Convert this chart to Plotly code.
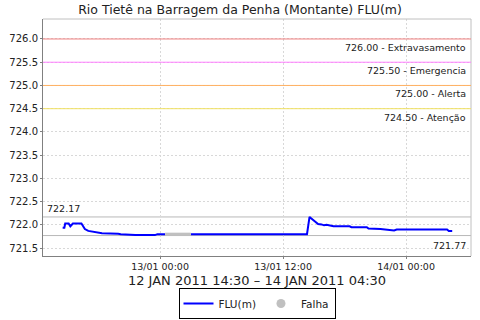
import plotly.graph_objects as go

# FLU(m) series (blue) - two segments separated by a failure gap
times_a = ["2011-01-12 14:30", "2011-01-12 14:40", "2011-01-12 14:45", "2011-01-12 15:05",
           "2011-01-12 15:15", "2011-01-12 15:30", "2011-01-12 16:20", "2011-01-12 16:40",
           "2011-01-12 17:00", "2011-01-12 17:30", "2011-01-12 18:20", "2011-01-12 19:55",
           "2011-01-12 20:10", "2011-01-12 21:35", "2011-01-12 23:30", "2011-01-12 23:45",
           "2011-01-13 00:30"]
vals_a = [721.94, 721.94, 722.03, 722.03,
          721.97, 722.03, 722.03, 721.91,
          721.87, 721.85, 721.82, 721.81,
          721.80, 721.78, 721.78, 721.80,
          721.80]

times_b = ["2011-01-13 03:00", "2011-01-13 14:20", "2011-01-13 14:35", "2011-01-13 15:05",
           "2011-01-13 15:25", "2011-01-13 15:45", "2011-01-13 16:00", "2011-01-13 16:15",
           "2011-01-13 16:35", "2011-01-13 16:55", "2011-01-13 18:30", "2011-01-13 18:40",
           "2011-01-13 20:10", "2011-01-13 20:20", "2011-01-13 21:30", "2011-01-13 22:50",
           "2011-01-13 23:05", "2011-01-14 04:00", "2011-01-14 04:10", "2011-01-14 04:30"]
vals_b = [721.80, 721.80, 722.17, 722.09,
          722.02, 722.01, 721.99, 722.00,
          721.98, 721.97, 721.97, 721.95,
          721.95, 721.92, 721.91, 721.88,
          721.90, 721.90, 721.87, 721.87]

# Failure (Falha) segment
times_gap = ["2011-01-13 00:30", "2011-01-13 03:00"]
vals_gap = [721.80, 721.80]

# Reference levels
levels = [726.00, 725.50, 725.00, 724.50]
level_names = ["Extravasamento", "Emergencia", "Alerta", "Atenção"]
level_colors = ["#f08080", "#ff80ff", "#ffb060", "#f0e060"]

max_val = 722.17
min_val = 721.77

x_range = ["2011-01-12 12:35", "2011-01-14 06:20"]
y_range = [721.33, 726.43]

fig = go.Figure()

fig.update_layout(
    width=480, height=320,
    margin=dict(l=43, r=9, t=19, b=64, autoexpand=False),
    paper_bgcolor="white", plot_bgcolor="white",
    font=dict(family="DejaVu Sans", size=10, color="#222222"),
    title=dict(text="Rio Tietê na Barragem da Penha (Montante) FLU(m)", x=0.5, xanchor="center",
               y=0.97, yanchor="middle", font=dict(size=12.5, color="#222222")),
    showlegend=True,
    legend=dict(orientation="h", x=0.5, xanchor="center", yref="container", y=0.003, yanchor="bottom",
                bordercolor="#000000", borderwidth=1, font=dict(size=10.5),
                itemwidth=30, tracegroupgap=0),
    xaxis=dict(range=x_range, type="date", dtick=12 * 3600 * 1000, tick0="2011-01-13 00:00",
               tickformat="%d/%m %H:%M", showgrid=True, gridcolor="#d8d8d8", griddash="2px,2px",
               gridwidth=1, showline=True, linecolor="#808080", linewidth=1, mirror=False,
               ticks="outside", ticklen=2, tickcolor="#808080", tickfont=dict(size=9.5),
               title=dict(text="12 JAN 2011 14:30 – 14 JAN 2011 04:30", font=dict(size=13), standoff=5),
               zeroline=False),
    yaxis=dict(range=y_range, dtick=0.5, tick0=721.5, tickformat=".1f",
               showgrid=True, gridcolor="#d8d8d8", griddash="2px,2px", gridwidth=1,
               showline=True, linecolor="#808080", linewidth=1,
               ticks="outside", ticklen=2, tickcolor="#808080", tickfont=dict(size=10),
               zeroline=False),
)

fig.add_shape(type="line", xref="paper", yref="paper", x0=0, x1=1, y0=1, y1=1,
              line=dict(color="#c0c0c0", width=1))
fig.add_shape(type="line", xref="paper", yref="paper", x0=1, x1=1, y0=0, y1=1,
              line=dict(color="#c0c0c0", width=1))

for lv, nm, col in zip(levels, level_names, level_colors):
    fig.add_hline(y=lv, line=dict(color=col, width=1), layer="above")
    fig.add_annotation(x=1, xref="paper", y=lv, yref="y", text=f"{lv:.2f} - {nm}",
                       showarrow=False, xanchor="right", yanchor="top", xshift=-3, yshift=-1,
                       font=dict(family="DejaVu Sans", size=9.5, color="#222222"))

for v, anchor_x, xa, ya in [(max_val, 0, "left", "bottom"), (min_val, 1, "right", "top")]:
    fig.add_hline(y=v, line=dict(color="#b8b8b8", width=1), layer="below")
    fig.add_annotation(x=anchor_x, xref="paper", y=v, yref="y", text=f"{v:.2f}",
                       showarrow=False, xanchor=xa, yanchor=ya,
                       xshift=(2 if xa == "left" else -3), yshift=(1 if ya == "bottom" else -2),
                       font=dict(family="DejaVu Sans", size=9.5, color="#222222"))

fig.add_trace(go.Scatter(x=times_a, y=vals_a, mode="lines", line=dict(color="#0000ff", width=2),
                         name="FLU(m)", showlegend=True, legendgroup="flu"))
fig.add_trace(go.Scatter(x=times_b, y=vals_b, mode="lines", line=dict(color="#0000ff", width=2),
                         name="FLU(m)", showlegend=False, legendgroup="flu"))
fig.add_trace(go.Scatter(x=times_gap, y=vals_gap, mode="lines", line=dict(color="#c0c0c0", width=3),
                         name="Falha", showlegend=False))
fig.add_trace(go.Scatter(x=[None], y=[None], mode="markers", marker=dict(color="#c0c0c0", size=9),
                         name="Falha", showlegend=True))

fig.write_html("out.html")
